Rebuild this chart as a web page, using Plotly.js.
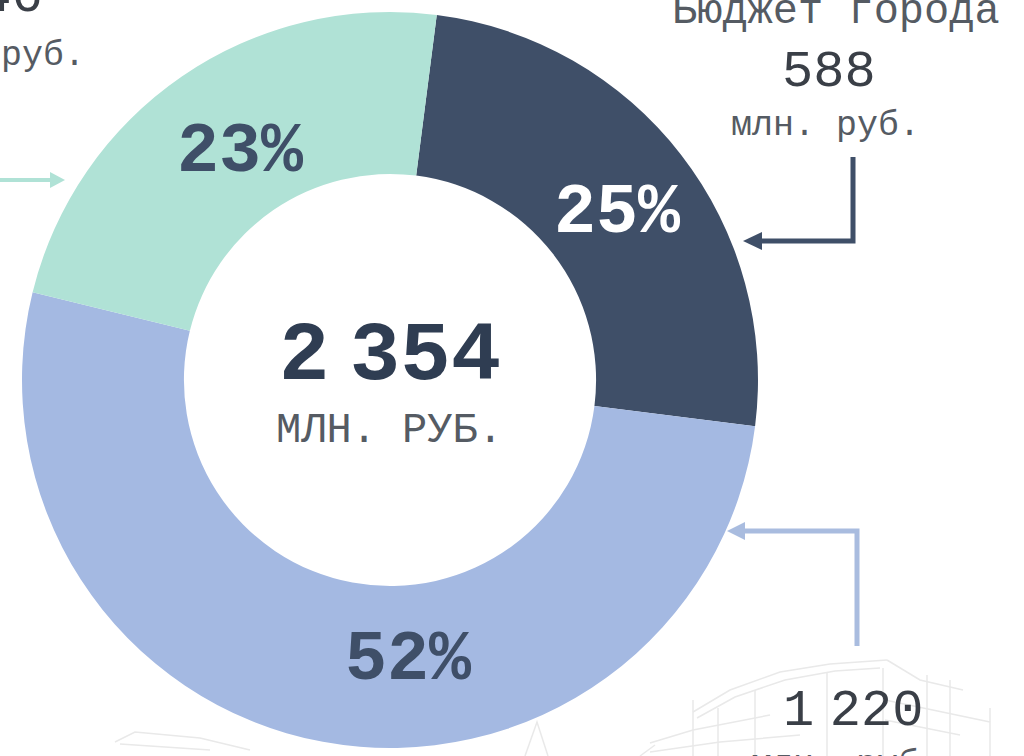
<!DOCTYPE html>
<html>
<head>
<meta charset="utf-8">
<script src="https://cdn.plot.ly/plotly-3.0.1.min.js"></script>
<style>html,body{margin:0;padding:0;background:#fff;overflow:hidden}</style>
</head>
<body>
<div id="chart" style="width:1024px;height:756px"></div>
<script>
var categories = ['Бюджет города', 'Внебюджетные средства', 'Областной бюджет'];
var values = [588, 1220, 546];
var sliceColors = ['#3f4f68', '#a4b9e2', '#b0e2d6'];
var totalLabel = '2<span style="font-size:34px"> </span>354';
var unitLabel = 'млн. руб.';

var W = 1024, H = 756;
var DARK = '#3f4f68', TEAL = '#b0e2d6', BLUE = '#a9bcdf', GREY = '#555b63', SKETCH = '#e9e9e9';
var MONO = '"Liberation Mono", monospace';
function px(x) { return x / W; }
function py(y) { return 1 - y / H; }
var total = values.reduce(function (a, b) { return a + b; }, 0);
function pct(i) { return Math.round(values[i] / total * 100) + '%'; }

function note(text, x, y, size, color, bold) {
  return {
    text: bold ? '<b>' + text + '</b>' : text,
    xref: 'paper', yref: 'paper', x: px(x), y: py(y),
    xanchor: 'center', yanchor: 'middle', showarrow: false,
    font: { family: MONO, size: size, color: color }
  };
}
function line(path, color, width, layer) {
  return { type: 'path', path: path, xref: 'paper', yref: 'paper', layer: layer || 'above',
           line: { color: color, width: width } };
}
function head(path, color) {
  return { type: 'path', path: path, xref: 'paper', yref: 'paper', layer: 'above',
           fillcolor: color, line: { color: color, width: 0 } };
}
function P() {
  var s = '', a = arguments;
  for (var i = 0; i < a.length; i++) {
    s += (i === 0 ? 'M' : 'L') + px(a[i][0]) + ',' + py(a[i][1]) + ' ';
  }
  return s;
}

var sketch = [
  [[693, 712], [730, 690], [780, 672], [830, 664], [887, 660]],
  [[697, 718], [735, 697], [785, 680], [835, 671], [880, 668]],
  [[887, 660], [920, 680], [963, 690]],
  [[693, 700], [693, 756]], [[718, 708], [718, 756]], [[755, 690], [755, 756]],
  [[827, 672], [827, 756]], [[883, 668], [883, 756]], [[927, 675], [927, 756]],
  [[950, 680], [950, 756]], [[990, 708], [990, 756]],
  [[650, 743], [693, 730], [770, 715]], [[650, 752], [720, 742], [800, 735]],
  [[885, 700], [990, 722]], [[885, 720], [960, 735]],
  [[115, 742], [135, 732], [200, 738], [250, 750]], [[120, 744], [210, 750]],
  [[525, 756], [537, 722], [548, 756]], [[640, 756], [655, 745]]
];
var shapes = sketch.map(function (pts) {
  return line(P.apply(null, pts), SKETCH, 1.5, 'below');
});

shapes.push(line(P([0, 180], [52, 180]), TEAL, 4));
shapes.push(head(P([65, 180], [50, 172], [50, 188]) + 'Z', TEAL));
shapes.push(line(P([853, 157], [853, 241], [758, 241]), DARK, 5));
shapes.push(head(P([743, 241], [762, 232], [762, 250]) + 'Z', DARK));
shapes.push(line(P([857, 646], [857, 531], [742, 531]), BLUE, 5));
shapes.push(head(P([727, 531], [745, 522], [745, 540]) + 'Z', BLUE));

var annotations = [
  note(pct(0), 617, 214, 70, '#ffffff', true),
  note(pct(1), 408, 660, 70, DARK, true),
  note(pct(2), 240, 152, 70, DARK, true),
  note(totalLabel, 390, 356, 84, '#2f3d52', true),
  note(unitLabel.toUpperCase(), 389, 431, 42, GREY),
  note(categories[0], 836, 12, 42, GREY),
  note(String(values[0]), 829, 72, 52, '#3a3f47'),
  note(unitLabel, 825, 126, 35, GREY),
  note(String(values[2]), -4, -3, 52, '#3a3f47'),
  note(unitLabel, -10, 56, 35, GREY),
  note('1<span style="font-size:26px"> </span>220', 853, 711, 52, '#3a3f47'),
  note(unitLabel, 845, 765, 35, GREY)
];

var trace = {
  type: 'pie',
  labels: categories,
  values: values,
  hole: 0.56,
  sort: false,
  direction: 'clockwise',
  rotation: 7.3,
  textinfo: 'none',
  hoverinfo: 'label+value+percent',
  marker: { colors: sliceColors, line: { width: 0 } },
  domain: { x: [px(22), px(758)], y: [py(748), py(12)] }
};

Plotly.newPlot('chart', [trace], {
  width: W, height: H,
  margin: { l: 0, r: 0, t: 0, b: 0 },
  paper_bgcolor: '#ffffff',
  showlegend: false,
  shapes: shapes,
  annotations: annotations
}, { displayModeBar: false, staticPlot: true });
</script>
</body>
</html>
